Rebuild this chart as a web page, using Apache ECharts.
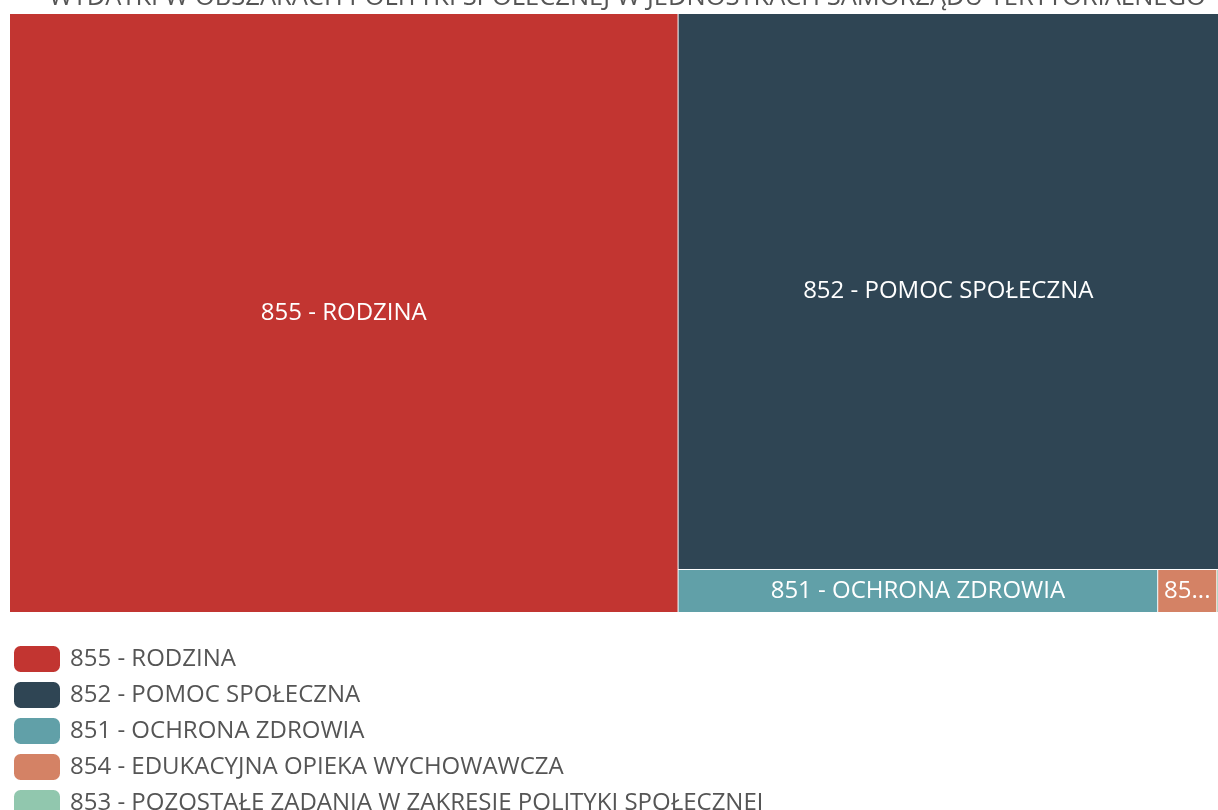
<!DOCTYPE html>
<html>
<head>
<meta charset="utf-8">
<script src="https://cdn.jsdelivr.net/npm/echarts@6/dist/echarts.min.js"></script>
<style>
  html, body { margin: 0; padding: 0; background: #fff; }
  #chart { width: 1218px; height: 810px; }
</style>
</head>
<body>
<div id="chart"></div>
<script>
// obszary polityki spolecznej, udzial w wydatkach (%)
const names = [
  '855 - RODZINA',
  '852 - POMOC SPOŁECZNA',
  '851 - OCHRONA ZDROWIA',
  '854 - EDUKACYJNA OPIEKA WYCHOWAWCZA',
  '853 - POZOSTAŁE ZADANIA W ZAKRESIE POLITYKI SPOŁECZNEJ'
];
const values = [55.3, 41.5, 2.84, 0.35, 0.01];
const colors = ['#c23531', '#2f4554', '#61a0a8', '#d48265', '#91c7ae'];

const nodes = names.map((n, i) => ({
  name: n,
  value: values[i],
  itemStyle: { color: colors[i] }
}));

const myChart = echarts.init(document.getElementById('chart'));
let option = {
  title: {
    text: 'WYDATKI W OBSZARACH POLITYKI SPOŁECZNEJ W JEDNOSTKACH SAMORZĄDU TERYTORIALNEGO',
    left: 44,
    top: -20,
    textStyle: {
      fontFamily: 'Open Sans',
      fontSize: 25.5,
      fontWeight: 'normal',
      color: '#555'
    }
  },
  legend: {
    orient: 'vertical',
    left: 9,
    top: 641,
    height: 180,
    icon: 'roundRect',
    itemWidth: 46,
    itemHeight: 26,
    itemGap: 10,
    selectedMode: false,
    data: names,
    textStyle: {
      fontFamily: 'Open Sans',
      fontSize: 24,
      color: '#555',
      padding: [0, 0, 0, 5]
    }
  },
  series: [
    {
      // tylko dla legendy
      name: 'legenda',
      type: 'pie',
      radius: [0, 0],
      center: [-100, -100],
      silent: true,
      label: { show: false },
      labelLine: { show: false },
      data: names.map((n, i) => ({ name: n, value: values[i], itemStyle: { color: colors[i] } }))
    },
    {
      name: 'wydatki',
      type: 'treemap',
      left: 10,
      right: 0,
      top: 14,
      bottom: 198,
      roam: false,
      nodeClick: false,
      breadcrumb: { show: false },
      itemStyle: {
        borderWidth: 0,
        gapWidth: 1,
        borderColor: '#fff'
      },
      label: {
        show: true,
        position: 'inside',
        overflow: 'truncate',
        ellipsis: '...',
        fontFamily: 'Open Sans',
        fontSize: 24,
        color: '#fff'
      },
      data: nodes
    }
  ]
};
myChart.setOption(option);
</script>
</body>
</html>
